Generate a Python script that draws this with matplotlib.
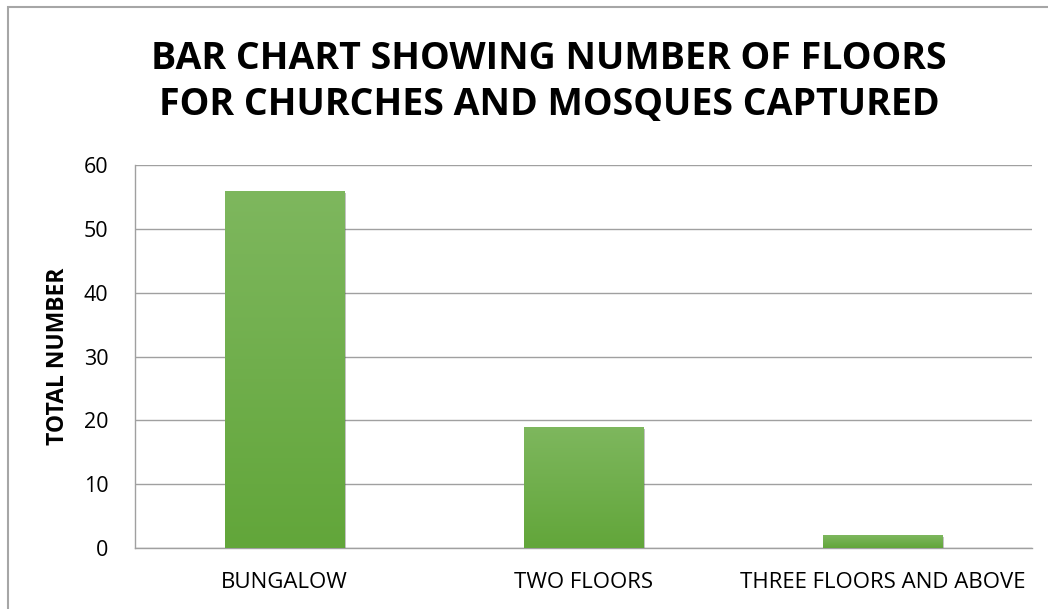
import matplotlib
matplotlib.use("Agg")
import matplotlib.pyplot as plt
import matplotlib.patheffects as pe
from matplotlib.patches import Rectangle
import numpy as np

categories = ["BUNGALOW", "TWO FLOORS", "THREE FLOORS AND ABOVE"]
floors = [56, 19, 2]

title = "BAR CHART SHOWING NUMBER OF FLOORS\nFOR CHURCHES AND MOSQUES CAPTURED"
y_label = "TOTAL NUMBER"

plt.rcParams["font.family"] = ["Open Sans", "DejaVu Sans"]

fig = plt.figure(figsize=(10.48, 6.09), dpi=100)
ax = fig.add_axes([0.1288, 0.1002, 0.8560, 0.6288])

# outer chart frame (only top and left edges are visible in the picture)
fig.patches.append(Rectangle((0.0080, -0.05), 1.1, 0.9885 + 0.05,
                             transform=fig.transFigure, fill=False,
                             edgecolor="#A6A6A6", linewidth=1.5))

x = np.arange(len(categories))
bars = ax.bar(x, floors, width=0.4, color="#6DAE48", zorder=3,
              path_effects=[pe.SimplePatchShadow(offset=(1.5, -1.5), shadow_rgbFace="#555555", alpha=0.35),
                            pe.Normal()])

# vertical gradient inside each bar
grad = np.linspace(0, 1, 256).reshape(-1, 1)
cmap = matplotlib.colors.LinearSegmentedColormap.from_list("g", ["#62A63A", "#7EB75E"])
for b in bars:
    x0, w, h = b.get_x(), b.get_width(), b.get_height()
    im = ax.imshow(grad, cmap=cmap, aspect="auto", origin="lower",
                   extent=[x0, x0 + w, 0, h], zorder=4)
    im.set_clip_path(b)

ax.set_xlim(-0.5, len(categories) - 0.5)
ax.set_ylim(0, 60)
ax.set_yticks(range(0, 61, 10))
ax.set_xticks(x)
ax.set_xticklabels(categories, fontsize=16)
ax.tick_params(axis="y", labelsize=15.5, length=0, pad=19)
ax.tick_params(axis="x", length=0, pad=17)
ax.grid(True, axis="y", color="#A0A0A0", linewidth=1.0, zorder=0)
for s in ["top", "right"]:
    ax.spines[s].set_visible(False)
for s in ["left", "bottom"]:
    ax.spines[s].set_color("#A0A0A0")
    ax.spines[s].set_linewidth(1.0)

ax.set_ylabel(y_label, fontsize=16.5, fontweight="bold")
ax.yaxis.set_label_coords(-0.072, 0.5)

fig.text(0.524, 0.8655, title, ha="center", va="center", fontsize=27,
         fontweight="bold", linespacing=1.3)

fig.savefig("out.png", dpi=100)
